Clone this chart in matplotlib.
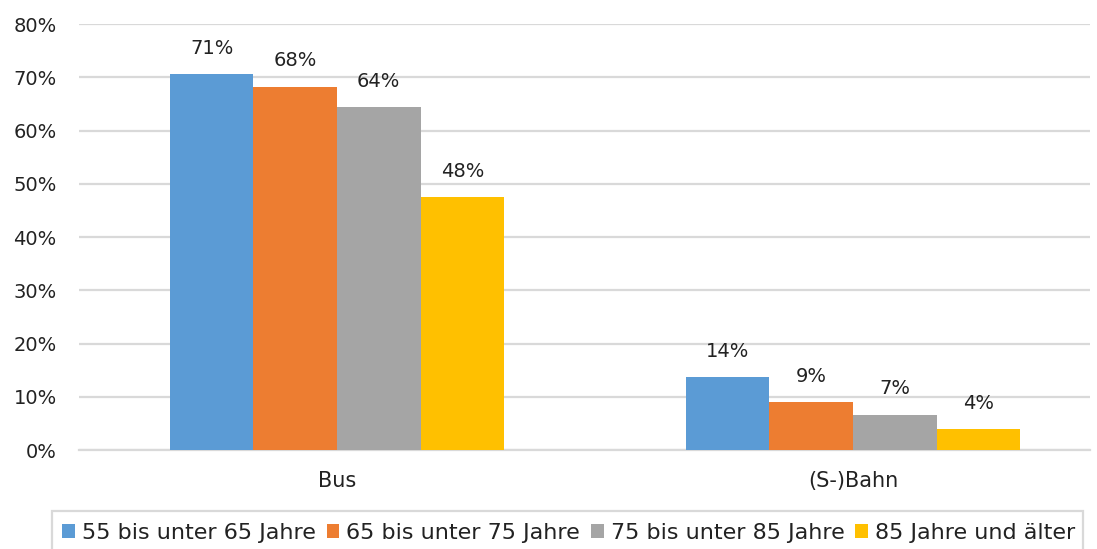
import numpy as np
import matplotlib.pyplot as plt
from matplotlib.patches import Patch, Rectangle

# Data
categories = ['Bus', '(S-)Bahn']
series_names = ['55 bis unter 65 Jahre', '65 bis unter 75 Jahre',
                '75 bis unter 85 Jahre', '85 Jahre und älter']
values = [
    [70.6, 13.7],   # 55-65
    [68.2, 9.0],    # 65-75
    [64.4, 6.6],    # 75-85
    [47.5, 3.9],    # 85+
]
colors = ['#5B9BD5', '#ED7D31', '#A5A5A5', '#FFC000']
y_ticks = [0, 10, 20, 30, 40, 50, 60, 70, 80]

plt.rcParams['font.family'] = ['DejaVu Sans']

fig = plt.figure(figsize=(10.97, 5.49), dpi=100)
ax = fig.add_axes([0.072, 0.180, 0.922, 0.776])

x = np.arange(len(categories))
width = 0.162
grid_col = '#D9D9D9'
text_col = '#222222'

for i, (name, vals) in enumerate(zip(series_names, values)):
    pos = x + (i - 1.5) * width
    bars = ax.bar(pos, vals, width, color=colors[i], label=name, zorder=3)
    for b, v in zip(bars, vals):
        ax.annotate(f'{v:.0f}%', (b.get_x() + b.get_width() / 2, v),
                    xytext=(0, 12), textcoords='offset points',
                    ha='center', va='bottom', fontsize=14, color=text_col)

ax.set_ylim(0, 80)
ax.set_xlim(-0.5, 1.46)
ax.set_yticks(y_ticks)
ax.set_yticklabels([f'{t}%' for t in y_ticks])
ax.set_xticks(x)
ax.set_xticklabels(categories)
ax.yaxis.grid(True, color=grid_col, linewidth=1.6, zorder=0)
ax.set_axisbelow(True)
for s in ['top', 'right', 'left']:
    ax.spines[s].set_visible(False)
ax.spines['bottom'].set_color(grid_col)
ax.spines['bottom'].set_linewidth(1.6)
ax.tick_params(axis='both', length=0, labelsize=14, colors=text_col)
ax.tick_params(axis='x', labelsize=15, pad=15)
ax.tick_params(axis='y', pad=16)

# legend box (runs off the bottom edge like the original)
fig.patches.append(Rectangle((52 / 1097, -0.05), (1083 - 52) / 1097, 0.05 + 38 / 549,
                             transform=fig.transFigure, facecolor='none',
                             edgecolor=grid_col, linewidth=1.6))

handles = [Patch(facecolor=c, edgecolor='none') for c in colors]
leg = fig.legend(handles, series_names, loc='center left',
                 bbox_to_anchor=(62 / 1097, 1 - 533 / 549),
                 ncol=4, fontsize=16, frameon=False, labelcolor=text_col,
                 handlelength=0.58, handleheight=0.58, handletextpad=0.3,
                 columnspacing=0.5, borderaxespad=0, borderpad=0)

fig.savefig('out.png', dpi=100)
